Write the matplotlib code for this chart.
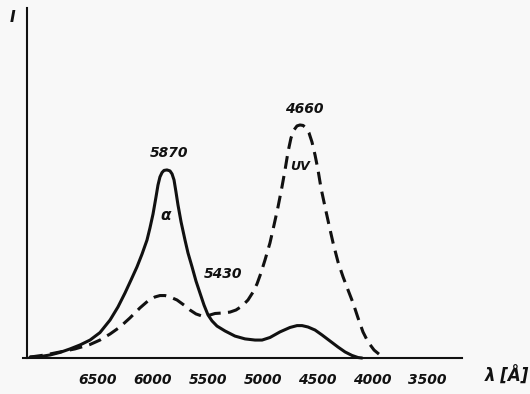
import matplotlib
matplotlib.use('Agg')
import matplotlib.pyplot as plt

# emission spectra, wavelength in Angstrom, intensity in arbitrary units (UV peak = 100)
lam_alpha = [7116, 7025, 6934, 6843, 6752, 6661, 6570, 6480, 6388, 6316,
             6252, 6197, 6143, 6097, 6052, 6025, 5997, 5970, 5952, 5934,
             5915, 5897, 5870, 5843, 5824, 5806, 5788, 5770, 5742, 5706,
             5679, 5642, 5606, 5570, 5533, 5497, 5460, 5415, 5342, 5251,
             5160, 5069, 5005, 4933, 4842, 4751, 4687, 4641, 4587, 4523,
             4460, 4387, 4314, 4250, 4187, 4132, 4096]
int_alpha = [0.4, 0.6, 1.3, 2.4, 3.9, 5.6, 7.7, 10.9, 16.3, 21.9,
             27.9, 33.5, 39.1, 44.6, 50.6, 55.8, 61.8, 69.1, 74.2, 77.7,
             79.6, 80.5, 80.7, 80.3, 79.0, 76.4, 71.2, 65.7, 58.4, 50.6,
             45.1, 39.1, 33.0, 27.9, 22.7, 18.5, 15.9, 13.7, 11.6, 9.4,
             8.2, 7.7, 7.7, 8.8, 11.2, 13.1, 13.9, 13.9, 13.3, 12.0,
             9.9, 7.3, 4.7, 2.6, 1.1, 0.2, 0.0]

lam_uv = [7116, 6980, 6843, 6707, 6570, 6480, 6388, 6298, 6207, 6116,
          6043, 5979, 5934, 5888, 5843, 5779, 5715, 5661, 5606, 5551,
          5497, 5433, 5369, 5297, 5242, 5187, 5133, 5087, 5051, 5015,
          4978, 4933, 4896, 4860, 4824, 4796, 4769, 4742, 4714, 4687,
          4660, 4632, 4605, 4578, 4551, 4523, 4496, 4469, 4432, 4396,
          4359, 4314, 4268, 4223, 4177, 4132, 4087, 4041, 3986, 3932, 3886]
int_uv = [0.4, 1.3, 2.6, 3.9, 5.8, 7.7, 10.3, 13.3, 17.2, 21.5,
          24.5, 26.2, 26.8, 26.8, 26.2, 24.9, 22.7, 20.6, 18.9, 18.0,
          18.2, 19.1, 19.3, 19.7, 20.6, 22.3, 24.9, 28.3, 31.8, 36.5,
          42.1, 49.4, 57.1, 64.8, 73.4, 80.7, 88.4, 94.4, 97.9, 99.6,
          100.0, 99.8, 98.7, 96.6, 92.7, 87.1, 80.7, 73.0, 64.8, 57.1,
          49.4, 41.2, 34.8, 29.2, 23.6, 17.2, 11.2, 6.9, 3.4, 1.3, 0.0]

tick_vals = [6500, 6000, 5500, 5000, 4500, 4000, 3500]
mark_vals = [6000, 5000, 4000]

ink = '#111111'
bg = '#f8f8f8'
fnt = dict(fontweight='bold', style='italic', color=ink)

fig = plt.figure(figsize=(5.3, 3.94), dpi=100, facecolor=bg)
ax = fig.add_axes([23 / 530, 36 / 394, 439 / 530, 350 / 394], facecolor=bg)

ax.plot(lam_alpha, int_alpha, color=ink, lw=2.2, clip_on=False,
        solid_joinstyle='round', solid_capstyle='round')
ax.plot(lam_uv, int_uv, color=ink, lw=2.2, ls=(0, (4.2, 2.4)), clip_on=False,
        dash_joinstyle='round')

ax.set_xlim(7180, 3186)
ax.set_ylim(0, 150.2)

for s in ['top', 'right']:
    ax.spines[s].set_visible(False)
ax.spines['left'].set_position(('data', 7144))
for s in ['left', 'bottom']:
    ax.spines[s].set_linewidth(1.5)
    ax.spines[s].set_color(ink)

ax.set_yticks([])
ax.set_xticks(tick_vals)
ax.set_xticklabels([str(v) for v in tick_vals], fontsize=10, **fnt)
ax.tick_params(axis='x', which='major', length=0, pad=11)
ax.set_xticks(mark_vals, minor=True)
ax.tick_params(axis='x', which='minor', direction='in', length=3, width=1.2, color=ink)

ax.text(5850, 88, '5870', ha='center', va='center', fontsize=10, **fnt)
ax.text(4622, 107, '4660', ha='center', va='center', fontsize=10, **fnt)
ax.text(5360, 36, '5430', ha='center', va='center', fontsize=10, **fnt)
ax.text(5879, 61, 'α', ha='center', va='center', fontsize=11, **fnt)
ax.text(4660, 82, 'UV', ha='center', va='center', fontsize=9, **fnt)

fig.text(12 / 530, 1 - 18 / 394, 'I', ha='center', va='center', fontsize=11, **fnt)
fig.text(507 / 530, 1 - 376 / 394, 'λ [Å]', ha='center', va='center', fontsize=12, **fnt)

fig.savefig('out.png', dpi=100, facecolor=bg)
